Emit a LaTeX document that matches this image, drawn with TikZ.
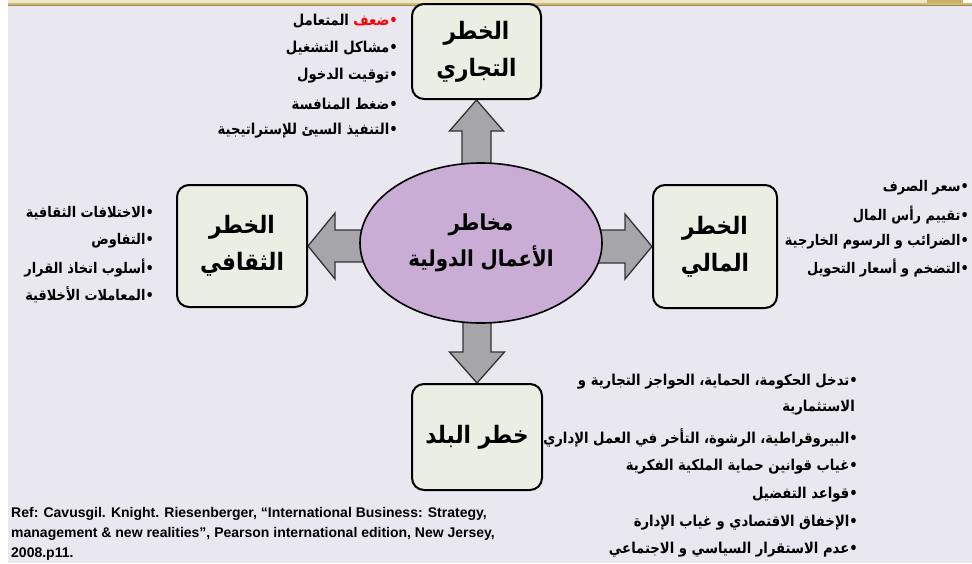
\documentclass[tikz,border=0pt]{standalone}
\usepackage{fontspec}
\setmainfont{Liberation Sans}
\newfontfamily\arab[Script=Arabic, FakeStretch=0.88]{DejaVu Sans}
\newfontfamily\arabt[Script=Arabic, FakeStretch=0.9]{DejaVu Sans}
\TeXXeTstate=1
\usetikzlibrary{shapes.geometric,calc}
\definecolor{bgc}{HTML}{E9E7EF}
\definecolor{boxc}{HTML}{EBEEE3}
\definecolor{elc}{HTML}{C9ADD5}
\definecolor{arrc}{HTML}{A6A5AA}
\definecolor{arrd}{HTML}{333333}
\definecolor{gold}{HTML}{CDBB77}
\definecolor{golddk}{HTML}{9B8B4F}
\definecolor{goldlt}{HTML}{EDE6C8}
\definecolor{goldbr}{HTML}{C9B35F}
\definecolor{redt}{HTML}{FF0000}
\pgfdeclarelayer{bg}\pgfdeclarelayer{mid}\pgfsetlayers{bg,mid,main}
\newcommand\bul{\hbox{•}}
\begin{document}
\begin{tikzpicture}[x=1pt,y=-1pt,
  box/.style={draw=black, line width=2pt, rounded corners=12pt, fill=boxc, inner sep=0pt,
    align=center, font=\arabt\bfseries\fontsize{24}{37}\selectfont},
  elli/.style={ellipse, draw=black, line width=1.6pt, fill=elc, inner sep=0pt,
    align=center, font=\arabt\bfseries\fontsize{22}{36}\selectfont},
  arr/.style={fill=arrc, draw=arrd, line width=1.3pt, line join=miter},
  lst/.style={anchor=east, inner sep=0pt, font=\arab\bfseries\fontsize{15}{17}\selectfont},
  lsts/.style={anchor=east, inner sep=0pt, font=\arab\bfseries\fontsize{14.7}{16}\selectfont},
  reft/.style={anchor=base west, inner sep=0pt, font=\bfseries\fontsize{14}{16}\selectfont}]
\useasboundingbox (0,0) rectangle (972,563);
\begin{pgfonlayer}{bg}
  \fill[white] (0,0) rectangle (972,563);
  \fill[bgc] (8,6) rectangle (972,563);
  \fill[goldlt] (8,0) rectangle (927,3);
  \fill[goldbr] (927,0) rectangle (963,3);
  \fill[gold] (8,3) rectangle (972,4.5);
  \fill[golddk] (8,4.5) rectangle (972,6);
\end{pgfonlayer}

% central ellipse and boxes
\node[elli, minimum width=242, minimum height=160] (el) at (481,243)
  {\beginR مخاطر\endR\\\beginR الأعمال الدولية\endR};
\node[box, minimum width=129, minimum height=95] (tb) at (476.5,51.5)
  {\beginR الخطر\endR\\\beginR التجاري\endR};
\node[box, minimum width=130, minimum height=122] (lb) at (242,246)
  {\beginR الخطر\endR\\\beginR الثقافي\endR};
\node[box, minimum width=124, minimum height=123] (rb) at (715,246.5)
  {\beginR الخطر\endR\\\beginR المالي\endR};
\node[box, minimum width=130, minimum height=106] (bb) at (477,437)
  {\beginR خطر البلد\endR};

% block arrows
\begin{pgfonlayer}{mid}
  \path (tb.south) coordinate (ut) (bb.north) coordinate (dt)
        (lb.east) coordinate (lt) (rb.west) coordinate (rt);
  \draw[arr] (ut) -- ($(ut)+(27,31)$) -- ($(ut)+(14.5,31)$) -- ($(ut |- el.north)+(14.5,25)$)
    -- ($(ut |- el.north)+(-14.5,25)$) -- ($(ut)+(-14.5,31)$) -- ($(ut)+(-27,31)$) -- cycle;
  \draw[arr] (dt) -- ($(dt)+(27.5,-31)$) -- ($(dt)+(14,-31)$) -- ($(dt |- el.south)+(14,-25)$)
    -- ($(dt |- el.south)+(-14,-25)$) -- ($(dt)+(-14,-31)$) -- ($(dt)+(-27.5,-31)$) -- cycle;
  \draw[arr] (lt) -- ($(lt)+(27,-33)$) -- ($(lt)+(27,-16)$) -- ($(lt -| el.west)+(25,-16)$)
    -- ($(lt -| el.west)+(25,16)$) -- ($(lt)+(27,16)$) -- ($(lt)+(27,33)$) -- cycle;
  \draw[arr] (rt) -- ($(rt)+(-27,-32.5)$) -- ($(rt)+(-27,-16.5)$) -- ($(rt -| el.east)+(-25,-16.5)$)
    -- ($(rt -| el.east)+(-25,16.5)$) -- ($(rt)+(-27,16.5)$) -- ($(rt)+(-27,32.5)$) -- cycle;
\end{pgfonlayer}

% top list
\node[lst, text=redt] (t1r) at (398,21) {\beginR\bul ضعف\endR};
\node[lst] (t1) at ($(t1r.west)+(-4,0)$) {\beginR المتعامل\endR};
\node[lst] (t2) at (398,48.5) {\beginR\bul مشاكل التشغيل\endR};
\node[lst] (t3) at (398,76) {\beginR\bul توقيت الدخول\endR};
\node[lst] (t4) at (398,103.5) {\beginR\bul ضغط المنافسة\endR};
\node[lst] (t5) at (398,131) {\beginR\bul التنفيذ السيئ للإستراتيجية\endR};

% left list
\node[lsts] (l1) at (154,213) {\beginR\bul الاختلافات الثقافية\endR};
\node[lsts] (l2) at (154,241) {\beginR\bul التفاوض\endR};
\node[lsts] (l3) at (154,268) {\beginR\bul أسلوب اتخاذ القرار\endR};
\node[lsts] (l4) at (154,295) {\beginR\bul المعاملات الأخلاقية\endR};

% right list
\node[lsts] (r1) at (969,188) {\beginR\bul سعر الصرف\endR};
\node[lsts] (r2) at (969,215) {\beginR\bul تقييم رأس المال\endR};
\node[lsts] (r3) at (969,242) {\beginR\bul الضرائب و الرسوم الخارجية\endR};
\node[lsts] (r4) at (969,268) {\beginR\bul التضخم و أسعار التحويل\endR};

% bottom list
\node[lst] (b1) at (858,382) {\beginR\bul تدخل الحكومة، الحماية، الحواجز التجارية و\endR};
\node[lst] (b2) at (855,408) {\beginR الاستثمارية\endR};
\node[lst] (b3) at (858,438) {\beginR\bul البيروقراطية، الرشوة، التأخر في العمل الإداري\endR};
\node[lst] (b4) at (858,467) {\beginR\bul غياب قوانين حماية الملكية الفكرية\endR};
\node[lst] (b5) at (858,495) {\beginR\bul قواعد التفضيل\endR};
\node[lst] (b6) at (858,523) {\beginR\bul الإخفاق الاقتصادي و غياب الإدارة\endR};
\node[lst] (b7) at (858,550) {\beginR\bul عدم الاستقرار السياسي و الاجتماعي\endR};

% reference
\node[reft] (ref1) at (11,517) {Ref: Cavusgil. Knight. Riesenberger, “International Business: Strategy,};
\node[reft] (ref2) at (11,537) {management \& new realities”, Pearson international edition, New Jersey,};
\node[reft] (ref3) at (11,557) {2008.p11.};
\end{tikzpicture}
\end{document}
